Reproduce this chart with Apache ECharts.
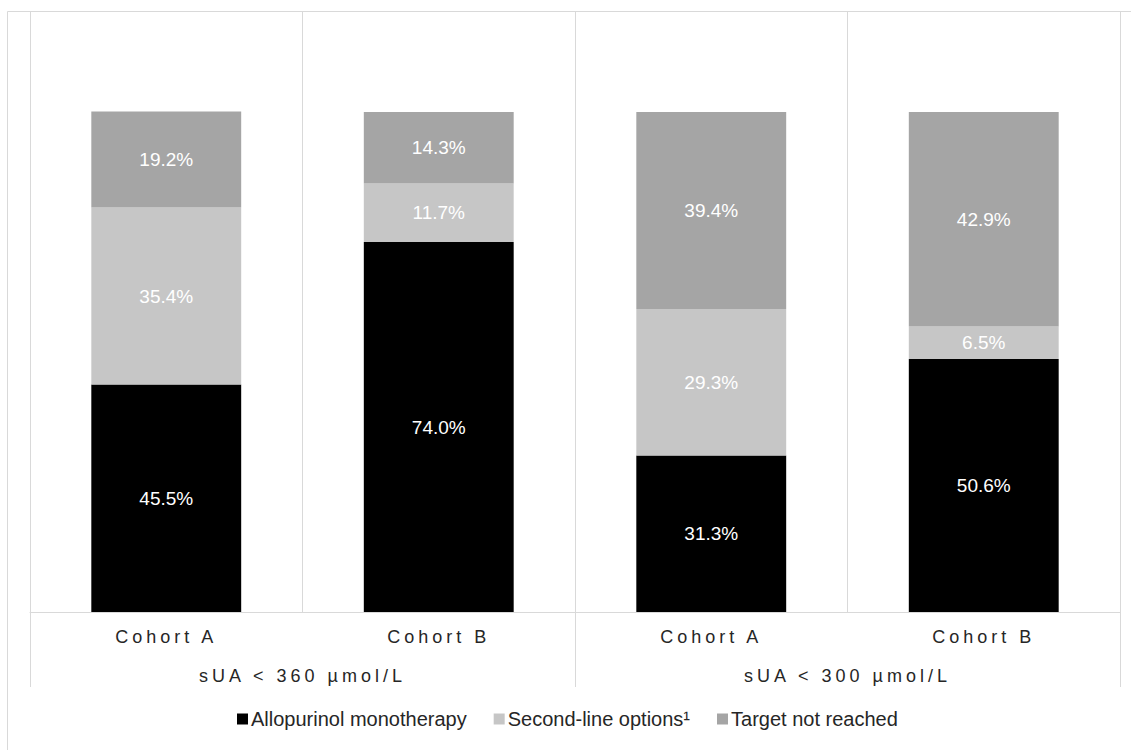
<!DOCTYPE html>
<html>
<head>
<meta charset="utf-8">
<script src="https://cdn.jsdelivr.net/npm/echarts@6/dist/echarts.min.js"></script>
<style>
  html, body { margin: 0; padding: 0; background: #ffffff; }
  #chart { width: 1131px; height: 750px; }
  /* spaced category labels, as in the original */
  #chart text[style*="18px"] { letter-spacing: 4px; }
</style>
</head>
<body>
<div id="chart"></div>
<script>
const categories = ['Cohort A', 'Cohort B', 'Cohort A', 'Cohort B'];
const groups = ['sUA < 360 µmol/L', 'sUA < 300 µmol/L'];
const seriesNames = ['Allopurinol monotherapy', 'Second-line options¹', 'Target not reached'];
const allopurinol = [45.5, 74.0, 31.3, 50.6];
const secondLine = [35.4, 11.7, 29.3, 6.5];
const notReached = [19.2, 14.3, 39.4, 42.9];
const colors = ['#000000', '#c6c6c6', '#a5a5a5'];

const chart = echarts.init(document.getElementById('chart'), null, { renderer: 'svg' });

const makeSeries = (name, data, color) => ({
  name: name,
  type: 'bar',
  stack: 'total',
  xAxisIndex: 0,
  barWidth: '55%',
  data: data,
  itemStyle: { color: color },
  label: {
    show: true,
    position: 'inside',
    color: '#ffffff',
    fontSize: 19,
    fontFamily: 'Liberation Sans, Arial, sans-serif',
    formatter: p => p.value.toFixed(1) + '%'
  },
  emphasis: { disabled: true },
  animation: false
});

chart.setOption({
  animation: false,
  graphic: [{
    type: 'rect',
    silent: true,
    z: -10,
    shape: { x: 7.5, y: 11.5, width: 1200, height: 800 },
    style: { fill: 'none', stroke: '#d9d9d9', lineWidth: 1 }
  }],
  grid: {
    left: 30, right: 11, top: 12, bottom: 138,
    containLabel: false, outerBoundsMode: 'none'
  },
  legend: {
    data: seriesNames,
    left: 232,
    top: 704,
    icon: 'rect',
    itemWidth: 11,
    itemHeight: 11,
    itemGap: 27,
    selectedMode: false,
    textStyle: {
      fontSize: 20,
      color: '#262626',
      fontFamily: 'Liberation Sans, Arial, sans-serif',
      padding: [0, 0, 0, -2]
    }
  },
  xAxis: [{
    type: 'category',
    data: categories,
    position: 'bottom',
    axisLine: { show: true, lineStyle: { color: '#d9d9d9', width: 1 } },
    axisTick: { show: false },
    splitLine: { show: true, lineStyle: { color: '#d9d9d9', width: 1 } },
    axisLabel: {
      margin: 16,
      fontSize: 18,
      color: '#262626',
      fontFamily: 'Liberation Sans, Arial, sans-serif'
    }
  }, {
    type: 'category',
    data: groups,
    position: 'bottom',
    axisLine: { show: false },
    axisTick: { show: true, length: 75, lineStyle: { color: '#d9d9d9', width: 1 } },
    splitLine: { show: false },
    axisLabel: {
      margin: 55,
      fontSize: 18,
      color: '#262626',
      fontFamily: 'Liberation Sans, Arial, sans-serif'
    }
  }],
  yAxis: {
    type: 'value',
    min: 0,
    max: 120,
    show: false,
    splitLine: { show: false }
  },
  series: [
    makeSeries(seriesNames[0], allopurinol, colors[0]),
    makeSeries(seriesNames[1], secondLine, colors[1]),
    makeSeries(seriesNames[2], notReached, colors[2])
  ]
});
</script>
</body>
</html>
